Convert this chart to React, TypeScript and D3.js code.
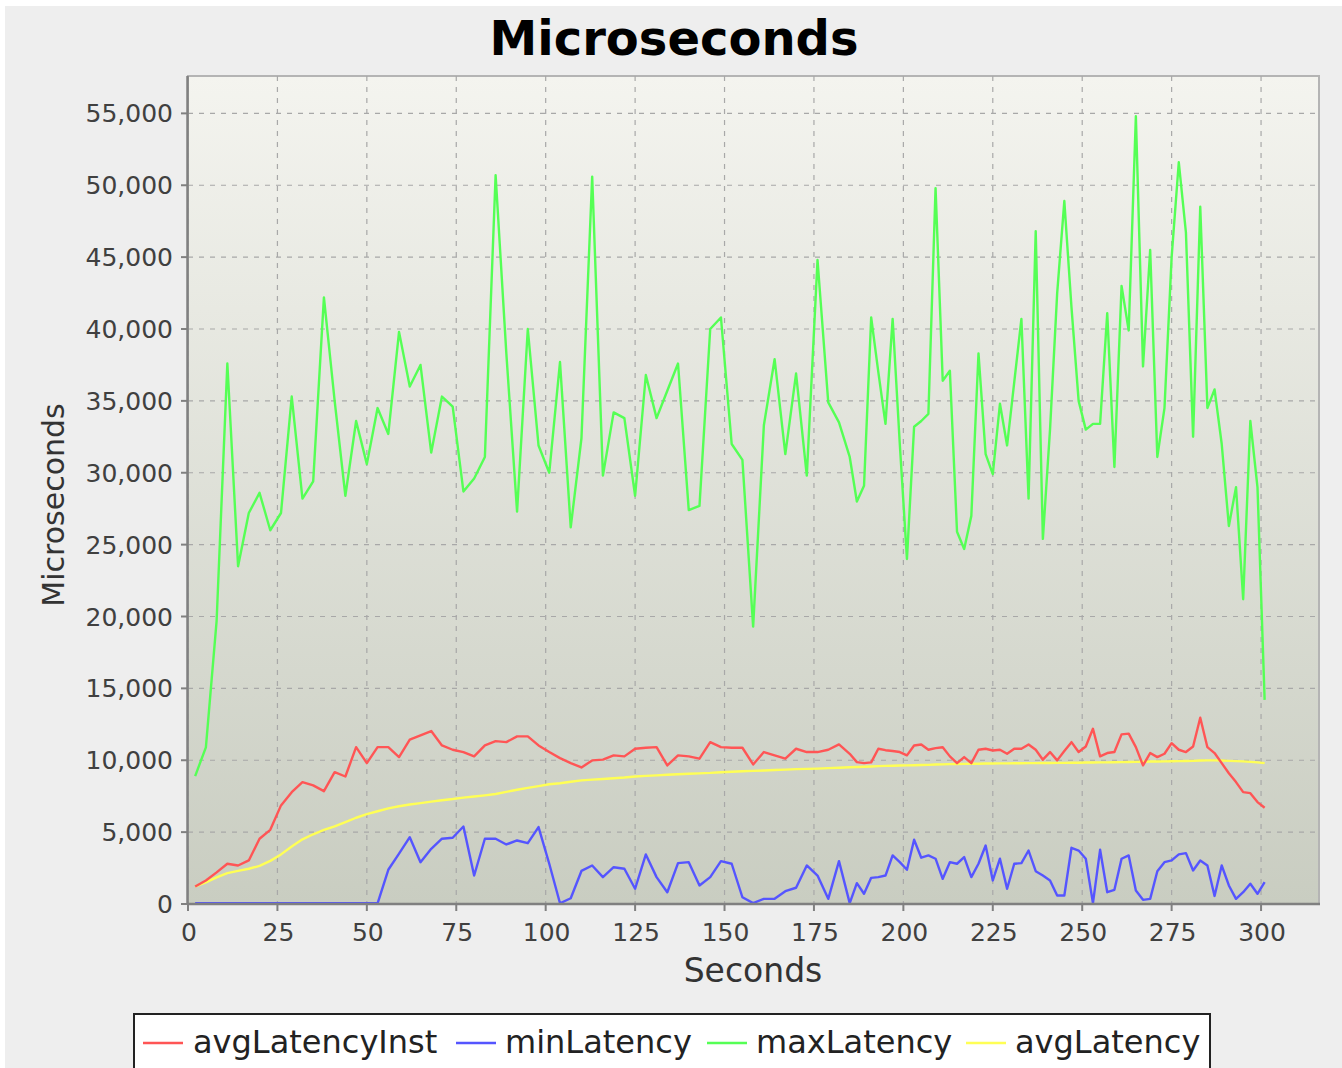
import React from "react";
import * as d3 from "d3";

const seconds = [
  2, 5, 8, 11, 14, 17, 20, 23, 26, 29,
  32, 35, 38, 41, 44, 47, 50, 53, 56, 59,
  62, 65, 68, 71, 74, 77, 80, 83, 86, 89,
  92, 95, 98, 101, 104, 107, 110, 113, 116, 119,
  122, 125, 128, 131, 134, 137, 140, 143, 146, 149,
  152, 155, 158, 161, 164, 167, 170, 173, 176, 179,
  182, 185, 187, 189, 191, 193, 195, 197, 199, 201,
  203, 205, 207, 209, 211, 213, 215, 217, 219, 221,
  223, 225, 227, 229, 231, 233, 235, 237, 239, 241,
  243, 245, 247, 249, 251, 253, 255, 257, 259, 261,
  263, 265, 267, 269, 271, 273, 275, 277, 279, 281,
  283, 285, 287, 289, 291, 293, 295, 297, 299, 301,
];

const avgLatencyInst = [
  1220, 1640, 2200, 2800, 2680, 3030, 4540, 5160, 6860, 7780,
  8480, 8250, 7850, 9170, 8870, 10910, 9800, 10910, 10910, 10220,
  11430, 11730, 12030, 11030, 10730, 10570, 10270, 11030, 11330, 11260,
  11660, 11660, 11030, 10570, 10150, 9800, 9500, 9990, 10040, 10340,
  10270, 10800, 10870, 10910, 9640, 10340, 10270, 10110, 11260, 10910,
  10870, 10870, 9710, 10570, 10340, 10110, 10800, 10570, 10570, 10730,
  11100, 10450, 9870, 9800, 9850, 10800, 10700, 10640, 10570, 10340,
  11030, 11100, 10730, 10840, 10900, 10270, 9800, 10220, 9800, 10730,
  10800, 10680, 10730, 10450, 10800, 10800, 11100, 10730, 10040, 10570,
  9990, 10640, 11260, 10570, 10960, 12190, 10270, 10500, 10570, 11800,
  11850, 10910, 9640, 10500, 10220, 10450, 11190, 10730, 10570, 10960,
  12960, 10910, 10500, 9800, 9100, 8480, 7780, 7710, 7090, 6700,
];

const minLatency = [
  50, 50, 50, 50, 50, 50, 50, 50, 50, 50,
  50, 50, 50, 50, 50, 50, 50, 50, 2380, 3500,
  4650, 2910, 3840, 4540, 4610, 5390, 1980, 4540, 4540, 4140,
  4420, 4230, 5350, 2800, 50, 400, 2300, 2680, 1870, 2560,
  2450, 1060, 3450, 1870, 820, 2840, 2910, 1290, 1870, 2980,
  2800, 470, 60, 360, 360, 890, 1130, 2680, 1980, 360,
  2980, 60, 1450, 710, 1820, 1870, 1980, 3380, 2910, 2380,
  4470, 3220, 3380, 3150, 1750, 2910, 2800, 3260, 1870, 2800,
  4070, 1640, 3150, 1060, 2800, 2840, 3720, 2280, 1980, 1640,
  590, 590, 3910, 3720, 3150, 60, 3770, 820, 990, 3150,
  3380, 940, 290, 360, 2280, 2910, 3030, 3450, 3540, 2330,
  3030, 2680, 560, 2680, 1290, 360, 820, 1410, 710, 1520,
];

const maxLatency = [
  8900, 10900, 19700, 37600, 23500, 27200, 28600, 26000, 27200, 35300,
  28200, 29400, 42200, 35000, 28400, 33600, 30600, 34500, 32700, 39800,
  36000, 37500, 31400, 35300, 34600, 28700, 29600, 31100, 50700, 38300,
  27300, 40000, 31900, 30000, 37700, 26200, 32400, 50600, 29800, 34200,
  33800, 28400, 36800, 33800, 35700, 37600, 27400, 27700, 40000, 40800,
  32000, 30900, 19300, 33300, 37900, 31300, 36900, 29800, 44800, 34900,
  33500, 31100, 28000, 29100, 40800, 37000, 33400, 40700, 32000, 24000,
  33200, 33600, 34100, 49800, 36400, 37100, 25900, 24700, 27000, 38300,
  31300, 29900, 34800, 31900, 36300, 40700, 28200, 46800, 25400, 33000,
  42500, 48900, 41500, 35000, 33000, 33400, 33400, 41100, 30400, 43000,
  39900, 54800, 37400, 45500, 31100, 34500, 45000, 51600, 46700, 32500,
  48500, 34500, 35800, 32000, 26300, 29000, 21200, 33600, 29000, 14200,
];

const avgLatency = [
  1220, 1500, 1850, 2150, 2300, 2450, 2650, 3000, 3450, 4000,
  4500, 4850, 5150, 5400, 5700, 6000, 6250, 6450, 6650, 6800,
  6920, 7020, 7120, 7220, 7300, 7400, 7480, 7560, 7650, 7800,
  7950, 8080, 8200, 8330, 8400, 8500, 8600, 8650, 8700, 8750,
  8800, 8870, 8910, 8950, 8990, 9030, 9060, 9090, 9120, 9170,
  9200, 9230, 9260, 9290, 9320, 9350, 9380, 9400, 9420, 9450,
  9480, 9510, 9530, 9550, 9570, 9590, 9610, 9620, 9630, 9640,
  9650, 9670, 9680, 9700, 9710, 9730, 9740, 9750, 9760, 9760,
  9770, 9770, 9780, 9780, 9790, 9790, 9800, 9800, 9810, 9810,
  9820, 9820, 9830, 9830, 9840, 9840, 9850, 9850, 9860, 9870,
  9880, 9890, 9900, 9910, 9910, 9920, 9930, 9940, 9950, 9960,
  9980, 9990, 9990, 9980, 9960, 9940, 9920, 9890, 9850, 9800,
];

const seriesNames = ["avgLatencyInst", "minLatency", "maxLatency", "avgLatency"];
const seriesColors = ["#FF5555", "#5555FF", "#55FF55", "#FFFF55"];
const seriesValues = [avgLatencyInst, minLatency, maxLatency, avgLatency];

const xTicks = [0, 25, 50, 75, 100, 125, 150, 175, 200, 225, 250, 275, 300];
const yTicks = [0, 5000, 10000, 15000, 20000, 25000, 30000, 35000, 40000, 45000, 50000, 55000];

const W = 1342;
const H = 1068;
const plot = { left: 188, right: 1319, top: 76, bottom: 904 };
const FONT = "'DejaVu Sans', Verdana, sans-serif";

export default function App() {
  const x = d3.scaleLinear().domain([0, 316.2]).range([plot.left, plot.right]);
  const y = d3.scaleLinear().domain([0, 57600]).range([plot.bottom, plot.top]);
  const fmt = d3.format(",");

  const line = (vals: number[]) =>
    d3
      .line<number>()
      .x((_, i) => x(seconds[i]))
      .y((v) => y(v))(vals) || "";

  const legendItems = [
    { lx: 143, tx: 193 },
    { lx: 456, tx: 505 },
    { lx: 707, tx: 756 },
    { lx: 966, tx: 1015 },
  ];

  const drawOrder = [3, 2, 1, 0];

  return (
    <svg
      width={W}
      height={H}
      style={{ position: "absolute", left: 0, top: 0, display: "block" }}
      fontFamily={FONT}
    >
      <defs>
        <linearGradient id="plotbg" x1="0" y1="0" x2="0" y2="1">
          <stop offset="0" stopColor="#F4F4EF" />
          <stop offset="1" stopColor="#C9CDC1" />
        </linearGradient>
        <clipPath id="plotclip">
          <rect x={plot.left} y={plot.top} width={plot.right - plot.left} height={plot.bottom - plot.top} />
        </clipPath>
      </defs>
      <rect x={0} y={0} width={W} height={H} fill="#FFFFFF" />
      <rect x={5} y={6} width={W - 5} height={H - 6} fill="#EEEEEE" />

      <text x={674} y={55} textAnchor="middle" fontSize={48} fontWeight="bold" fill="#000">
        Microseconds
      </text>

      <rect
        x={plot.left}
        y={plot.top}
        width={plot.right - plot.left}
        height={plot.bottom - plot.top}
        fill="url(#plotbg)"
        stroke="#B4B4B4"
        strokeWidth={2}
      />

      {/* grid */}
      <g stroke="#A8A8A8" strokeWidth={1.2} strokeDasharray="5,6">
        {xTicks.map((t) => (
          <line key={"gx" + t} x1={x(t)} x2={x(t)} y1={plot.top} y2={plot.bottom} />
        ))}
        {yTicks.map((t) => (
          <line key={"gy" + t} x1={plot.left} x2={plot.right} y1={y(t)} y2={y(t)} />
        ))}
      </g>

      {/* series */}
      <g clipPath="url(#plotclip)" fill="none" strokeWidth={2.4} strokeLinejoin="round">
        {drawOrder.map((k) => (
          <path key={seriesNames[k]} d={line(seriesValues[k])} stroke={seriesColors[k]} />
        ))}
      </g>

      {/* axes */}
      <line x1={plot.left - 0.5} x2={plot.left - 0.5} y1={plot.top} y2={plot.bottom + 1} stroke="#808080" strokeWidth={2.5} />
      <line x1={plot.left - 1} x2={plot.right + 1} y1={plot.bottom} y2={plot.bottom} stroke="#808080" strokeWidth={2.5} />

      <g stroke="#808080" strokeWidth={2}>
        {yTicks.map((t) => (
          <line key={"ty" + t} x1={plot.left - 7} x2={plot.left} y1={y(t)} y2={y(t)} />
        ))}
        {xTicks.map((t) => (
          <line key={"tx" + t} x1={x(t)} x2={x(t)} y1={plot.bottom} y2={plot.bottom + 7} />
        ))}
      </g>

      <g fontSize={25} fill="#404040">
        {yTicks.map((t) => (
          <text key={"ly" + t} x={173} y={y(t) + 9} textAnchor="end">
            {fmt(t)}
          </text>
        ))}
        {xTicks.map((t) => (
          <text key={"lx" + t} x={x(t) + 1} y={941} textAnchor="middle">
            {t}
          </text>
        ))}
      </g>

      <text x={753} y={982} textAnchor="middle" fontSize={33} fill="#333">
        Seconds
      </text>
      <text
        transform={`translate(64,${505}) rotate(-90)`}
        textAnchor="middle"
        fontSize={30}
        fill="#333"
      >
        Microseconds
      </text>

      {/* legend */}
      <rect x={134} y={1014} width={1076} height={70} fill="#FFFFFF" stroke="#222" strokeWidth={2} />
      {legendItems.map((it, i) => (
        <g key={seriesNames[i]}>
          <line x1={it.lx} x2={it.lx + 40} y1={1043} y2={1043} stroke={seriesColors[i]} strokeWidth={2.5} />
          <text x={it.tx} y={1053} fontSize={32} fill="#222">
            {seriesNames[i]}
          </text>
        </g>
      ))}
    </svg>
  );
}
